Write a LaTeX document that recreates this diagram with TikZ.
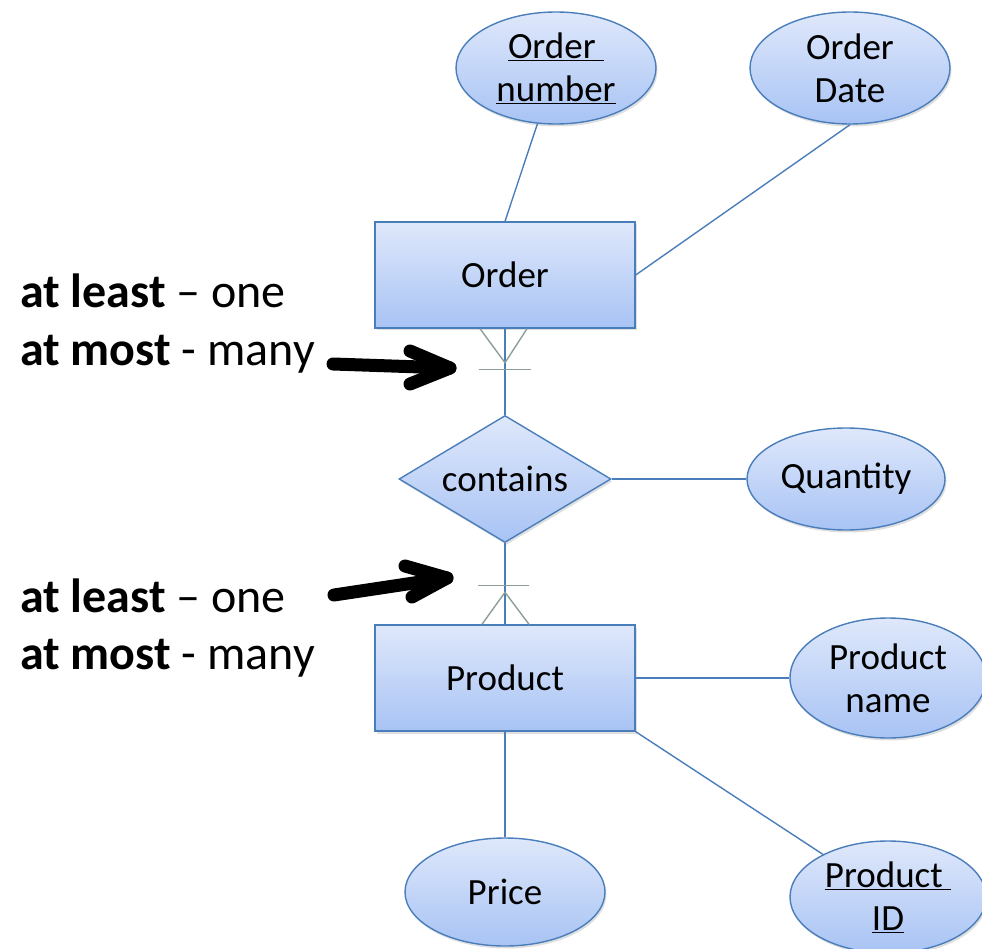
\documentclass[tikz,border=0pt]{standalone}
\usepackage{fontspec}
\setmainfont{Carlito}
\usetikzlibrary{shapes.geometric,shadows}

\definecolor{edgeblue}{HTML}{4A7EBB}
\definecolor{filltop}{HTML}{DFE8FB}
\definecolor{fillbot}{HTML}{A8C3F4}
\definecolor{footgray}{HTML}{8C9F96}

\tikzset{
  erbase/.style={draw=edgeblue, line width=1.4pt, top color=filltop,
    bottom color=fillbot, inner sep=0pt, align=center,
    font=\fontsize{37}{43}\selectfont,
    drop shadow={opacity=0.25, shadow xshift=1.5pt, shadow yshift=-2.5pt}},
  entity/.style={erbase, rectangle, minimum width=260pt, minimum height=106pt},
  attrib/.style={erbase, ellipse},
  relship/.style={erbase, diamond, aspect=1.67, minimum width=212pt, minimum height=127pt},
  link/.style={draw=edgeblue, line width=1.4pt},
  crowfoot/.style={draw=footgray, line width=1.4pt},
  bigarrow/.style={draw=black, line width=13pt, line cap=round, line join=round},
  note/.style={anchor=base west, inner sep=0pt, font=\fontsize{48}{57}\selectfont}
}

\begin{document}
\begin{tikzpicture}[x=1pt, y=-1pt]
  \useasboundingbox (0,0) rectangle (982,949);
  \clip (0,0) rectangle (982,949);

  % entities and relationship
  \node[entity] (order) at (505,275) {Order};
  \node[relship] (contains) at (505,479) {contains};
  \node[entity] (product) at (505,678) {Product};

  % attributes
  \node[attrib, minimum width=200pt, minimum height=112pt] (onum) at (556,68)
    {\underline{Order\ }\\\underline{number}};
  \node[attrib, minimum width=200pt, minimum height=112pt] (odate) at (850,68)
    {Order\\Date};
  \node[attrib, minimum width=198pt, minimum height=102pt] (qty) at (846,479)
    {Quantity};
  \node[attrib, minimum width=196pt, minimum height=120pt] (pname) at (888,678)
    {Product\\name};
  \node[attrib, minimum width=196pt, minimum height=112pt] (pid) at (888,897)
    {\underline{Product\ }\\\underline{ID}};
  \node[attrib, minimum width=200pt, minimum height=108pt] (price) at (505,892)
    {Price};

  % attribute links
  \draw[link] (order.north) -- (onum);
  \draw[link] (order.east) -- (odate.south);
  \draw[link] (contains.east) -- (qty.west);
  \draw[link] (product.east) -- (pname.west);
  \draw[link] (product.south east) -- (pid);
  \draw[link] (product.south) -- (price.north);

  % relationship links
  \draw[link] (order.south) -- (contains.north);
  \draw[link] (contains.south) -- (product.north);

  % crow's foot: one-and-many at Order
  \draw[crowfoot] ([xshift=-25pt]order.south) -- ([yshift=-34pt]order.south)
    -- ([xshift=22pt]order.south);
  \draw[crowfoot] ([xshift=-26pt,yshift=-41pt]order.south)
    -- ([xshift=26pt,yshift=-41pt]order.south);

  % crow's foot: one-and-many at Product
  \draw[crowfoot] ([xshift=-23pt]product.north) -- ([yshift=32pt]product.north)
    -- ([xshift=24pt]product.north);
  \draw[crowfoot] ([xshift=-27pt,yshift=39pt]product.north)
    -- ([xshift=24pt,yshift=39pt]product.north);

  % cardinality notes
  \node[note] (n1) at (20,308) {\textbf{at least} – one};
  \node[note] (n2) at (20,366) {\textbf{at most} - many};
  \node[note] (n3) at (20,612) {\textbf{at least} – one};
  \node[note] (n4) at (20,669) {\textbf{at most} - many};

  % pointer arrows
  \coordinate (a1s) at (333,364);
  \coordinate (a1t) at (450,368);
  \coordinate (a1u) at (410,351);
  \coordinate (a1d) at (410,384);
  \draw[bigarrow] (a1s) -- (a1t);
  \draw[bigarrow] (a1u) -- (a1t) -- (a1d);

  \coordinate (a2s) at (334,595);
  \coordinate (a2t) at (447,578);
  \coordinate (a2u) at (405,566);
  \coordinate (a2d) at (412,597);
  \draw[bigarrow] (a2s) -- (a2t);
  \draw[bigarrow] (a2u) -- (a2t) -- (a2d);
\end{tikzpicture}
\end{document}
